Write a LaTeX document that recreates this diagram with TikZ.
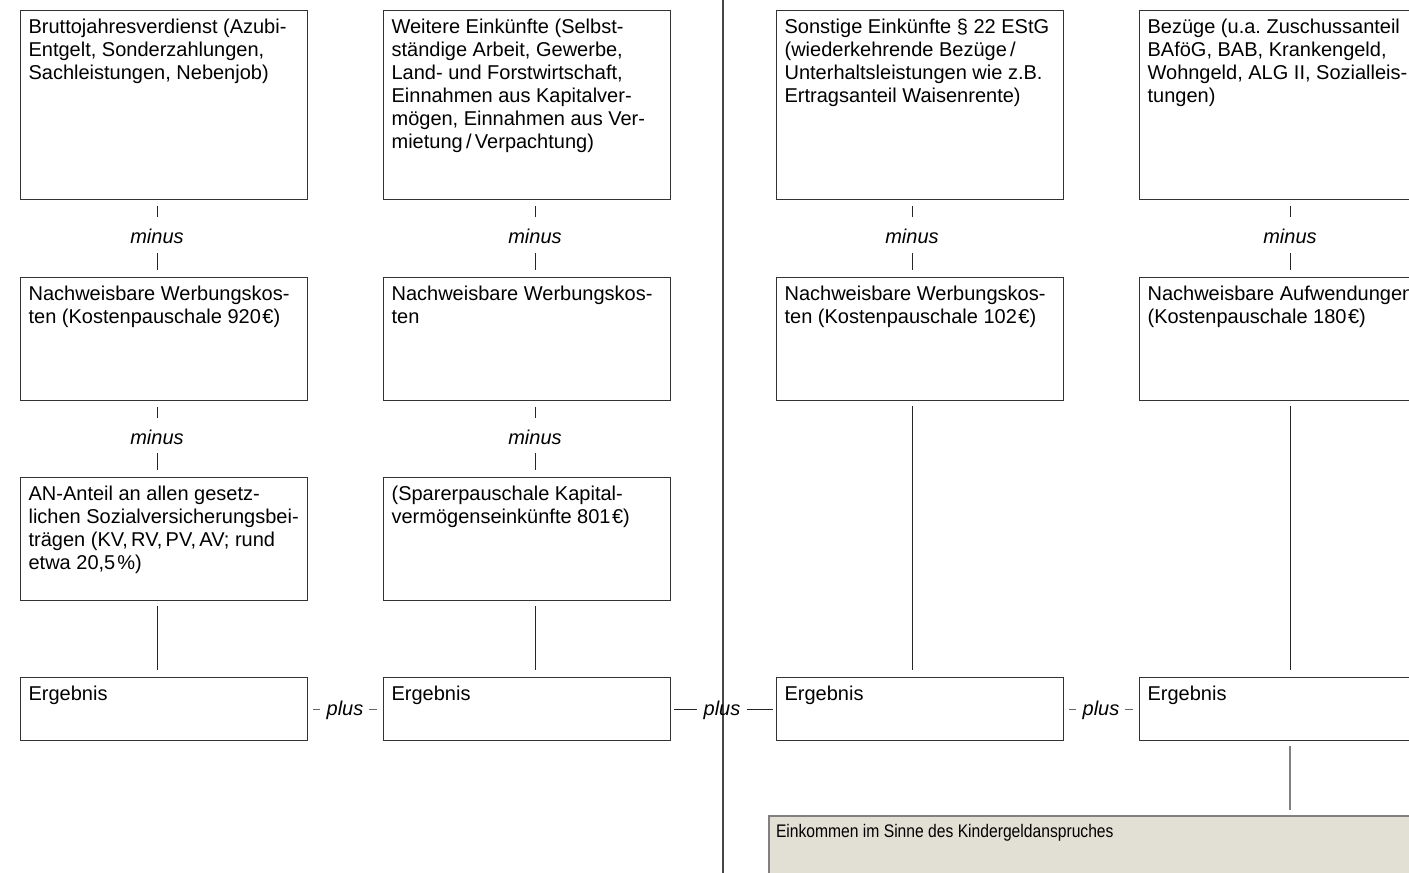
\documentclass[tikz,border=0pt]{standalone}
\usepackage{fontspec}
\setmainfont{Liberation Sans}
\usetikzlibrary{calc}
\definecolor{summe}{HTML}{E2E0D4}
\frenchspacing
\newcommand{\feld}[2]{\parbox[t][#1][t]{271pt}{\raggedright\hyphenpenalty=10000\strut #2}}

\begin{document}
\begin{tikzpicture}[x=1pt, y=-1pt,
    font=\fontsize{20}{23}\selectfont,
    box/.style={draw=black!80, line width=1.2pt, anchor=north west, inner xsep=8pt, inner ysep=7pt},
    op/.style={font=\fontsize{20}{23}\selectfont\itshape, inner sep=0pt, anchor=base},
    conn/.style={line width=1pt, draw=black!85},
    tick/.style={conn, shorten <=6pt, shorten >=11pt}]
    \path[use as bounding box, clip] (0,0) rectangle (1409,873);
    % Trennlinie
    \draw[line width=2.5pt, black!72] (723,0) -- (723,873);
    % erste Zeile
    \node[box] (brutto) at (20,10) {\feld{175pt}{Bruttojahresverdienst (Azubi-\\Entgelt, Sonderzahlungen,\\Sachleistungen, Nebenjob)}};
    \node[box] (weitere) at (383,10) {\feld{175pt}{Weitere Einkünfte (Selbst-\\ständige Arbeit, Gewerbe,\\Land- und Forstwirtschaft,\\Einnahmen aus Kapitalver-\\mögen, Einnahmen aus Ver-\\mietung\,/\,Verpachtung)}};
    \node[box] (sonstige) at (776,10) {\feld{175pt}{Sonstige Einkünfte § 22 EStG\\(wiederkehrende Bezüge\,/\\Unterhaltsleistungen wie z.B.\\Ertragsanteil Waisenrente)}};
    \node[box] (bezuege) at (1139,10) {\feld{175pt}{Bezüge (u.a. Zuschussanteil\\BAföG, BAB, Krankengeld,\\Wohngeld, ALG II, Sozialleis-\\tungen)}};
    % zweite Zeile
    \node[box] (wk1) at (20,277) {\feld{109pt}{Nachweisbare Werbungskos-\\ten (Kostenpauschale 920\kern1.5pt€)}};
    \node[box] (wk2) at (383,277) {\feld{109pt}{Nachweisbare Werbungskos-\\ten}};
    \node[box] (wk3) at (776,277) {\feld{109pt}{Nachweisbare Werbungskos-\\ten (Kostenpauschale 102\kern1.5pt€)}};
    \node[box] (aufw) at (1139,277) {\feld{109pt}{Nachweisbare Aufwendungen\\(Kostenpauschale 180\kern1.5pt€)}};
    % dritte Zeile
    \node[box] (anteil) at (20,477) {\feld{109pt}{AN-Anteil an allen gesetz-\\lichen Sozialversicherungsbei-\\trägen (KV,\,RV,\,PV,\,AV; rund\\etwa 20,5\kern2pt\%)}};
    \node[box] (sparer) at (383,477) {\feld{109pt}{(Sparerpauschale Kapital-\\vermögenseinkünfte 801\kern1.5pt€)}};
    % Ergebnisse
    \node[box] (erg1) at (20,677) {\feld{49pt}{Ergebnis}};
    \node[box] (erg2) at (383,677) {\feld{49pt}{Ergebnis}};
    \node[box] (erg3) at (776,677) {\feld{49pt}{Ergebnis}};
    \node[box] (erg4) at (1139,677) {\feld{49pt}{Ergebnis}};
    \node[box, draw=black!50, line width=2pt, fill=summe, inner xsep=7pt,
        font=\fontsize{18.2}{21}\selectfont\addfontfeature{FakeStretch=0.86}] (eink) at (768,815)
        {\parbox[t][100pt][t]{650pt}{\strut Einkommen im Sinne des Kindergeldanspruches}};

    % minus
    \node[op] (m1) at (157,243) {minus};
    \node[op] (m2) at (535,243) {minus};
    \node[op] (m3) at (912,243) {minus};
    \node[op] (m4) at (1290,243) {minus};
    \node[op] (m5) at (157,444) {minus};
    \node[op] (m6) at (535,444) {minus};
    \draw[tick] (brutto.south -| m1) -- (m1.north);
    \draw[tick] (weitere.south -| m2) -- (m2.north);
    \draw[tick] (sonstige.south -| m3) -- (m3.north);
    \draw[tick] (bezuege.south -| m4) -- (m4.north);
    \draw[conn, shorten <=10pt, shorten >=7pt] (m1.south) -- (m1 |- wk1.north);
    \draw[conn, shorten <=10pt, shorten >=7pt] (m2.south) -- (m2 |- wk2.north);
    \draw[conn, shorten <=10pt, shorten >=7pt] (m3.south) -- (m3 |- wk3.north);
    \draw[conn, shorten <=10pt, shorten >=7pt] (m4.south) -- (m4 |- aufw.north);
    \draw[tick] (wk1.south -| m5) -- (m5.north);
    \draw[tick] (wk2.south -| m6) -- (m6.north);
    \draw[conn, shorten <=9pt, shorten >=7pt] (m5.south) -- (m5 |- anteil.north);
    \draw[conn, shorten <=9pt, shorten >=7pt] (m6.south) -- (m6 |- sparer.north);
    % zu den Ergebnissen
    \draw[conn, shorten <=5pt, shorten >=7pt] (m5 |- anteil.south) -- (m5 |- erg1.north);
    \draw[conn, shorten <=5pt, shorten >=7pt] (m6 |- sparer.south) -- (m6 |- erg2.north);
    \draw[conn, shorten <=5pt, shorten >=7pt] (m3 |- wk3.south) -- (m3 |- erg3.north);
    \draw[conn, shorten <=5pt, shorten >=7pt] (m4 |- aufw.south) -- (m4 |- erg4.north);
    \draw[line width=1.5pt, black!50, shorten <=5pt, shorten >=5pt] (m4 |- erg4.south) -- (m4 |- eink.north);

    % plus
    \node[op] (p1) at (345,715) {plus};
    \node[op] (p2) at (722,715) {plus};
    \node[op] (p3) at (1101,715) {plus};
    \draw[conn, line width=0.8pt, black!60, shorten <=5pt, shorten >=6pt] (erg1.east) -- (erg1.east -| p1.west);
    \draw[conn, line width=0.8pt, black!60, shorten <=5pt, shorten >=6pt] (p1.east |- erg2.west) -- (erg2.west);
    \draw[conn, shorten <=3pt, shorten >=6pt] (erg2.east) -- (erg2.east -| p2.west);
    \draw[conn, shorten <=6pt, shorten >=3pt] (p2.east |- erg3.west) -- (erg3.west);
    \draw[conn, line width=0.8pt, black!60, shorten <=5pt, shorten >=6pt] (erg3.east) -- (erg3.east -| p3.west);
    \draw[conn, line width=0.8pt, black!60, shorten <=5pt, shorten >=6pt] (p3.east |- erg4.west) -- (erg4.west);
\end{tikzpicture}
\end{document}
